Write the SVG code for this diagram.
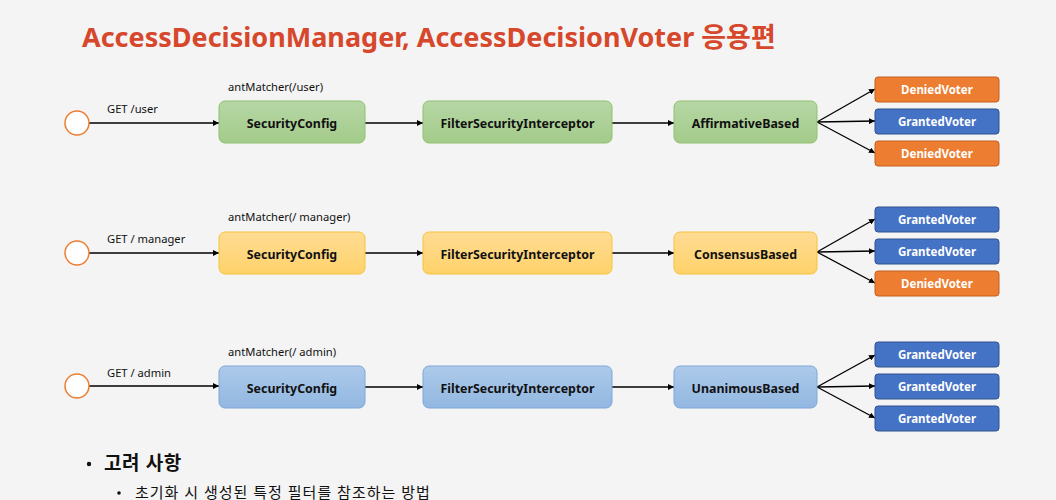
<svg xmlns="http://www.w3.org/2000/svg" width="1056" height="500" viewBox="0 0 1056 500">
<defs>
<linearGradient id="gGreen" x1="0" y1="0" x2="0" y2="1"><stop offset="0" stop-color="#b6d7a5"/><stop offset="1" stop-color="#a3cb8a"/></linearGradient>
<linearGradient id="gYellow" x1="0" y1="0" x2="0" y2="1"><stop offset="0" stop-color="#ffdc94"/><stop offset="1" stop-color="#ffd26a"/></linearGradient>
<linearGradient id="gBlue" x1="0" y1="0" x2="0" y2="1"><stop offset="0" stop-color="#adcaea"/><stop offset="1" stop-color="#92b7e1"/></linearGradient>
<marker id="arr" viewBox="0 0 10 10" refX="10" refY="5" markerWidth="6" markerHeight="6" markerUnits="userSpaceOnUse" orient="auto"><path d="M0,0 L10,5 L0,10 z" fill="#000"/></marker>
</defs>
<style>
text{font-family:"Segoe UI","Noto Sans","Noto Sans CJK KR",sans-serif;}
.title{font-size:27px;font-weight:bold;fill:#d6472b;}
.lbl{font-size:11.2px;fill:#111;}
.node{font-size:12.4px;font-weight:bold;fill:#111;text-anchor:middle;}
.vt{font-size:11.5px;font-weight:bold;fill:#fff;text-anchor:middle;}
.green{fill:url(#gGreen);stroke:#8fc16f;stroke-width:1;}
.yellow{fill:url(#gYellow);stroke:#f5c33b;stroke-width:1;}
.blue{fill:url(#gBlue);stroke:#7ea8d8;stroke-width:1;}
.denied{fill:#ed7d31;stroke:#c4601f;stroke-width:1;}
.granted{fill:#4472c4;stroke:#2f528f;stroke-width:1;}
.start{fill:#fff;stroke:#ed7d31;stroke-width:1.5;}
.conn line{stroke:#000;stroke-width:1.3;marker-end:url(#arr);}
.b1{font-size:19px;font-weight:bold;fill:#111;letter-spacing:0.6px;}
.b2{font-size:15px;fill:#111;letter-spacing:1px;}
</style>
<rect width="1056" height="500" fill="#f4f4f4"/>
<text class="title" x="82" y="47">AccessDecisionManager, AccessDecisionVoter 응용편</text>

<g id="labels">
<text class="lbl" x="228" y="91">antMatcher(/user)</text>
<text class="lbl" x="107" y="113">GET /user</text>
<text class="lbl" x="228" y="221">antMatcher(/ manager)</text>
<text class="lbl" x="107" y="243">GET / manager</text>
<text class="lbl" x="228" y="356">antMatcher(/ admin)</text>
<text class="lbl" x="107" y="377">GET / admin</text>
</g>

<g class="conn" id="connectors">
<line x1="89" y1="123" x2="219" y2="123"/>
<line x1="365" y1="123" x2="423" y2="123"/>
<line x1="612" y1="123" x2="674" y2="123"/>
<line x1="817" y1="122" x2="875" y2="89"/>
<line x1="817" y1="122" x2="875" y2="121"/>
<line x1="817" y1="122" x2="875" y2="153"/>

<line x1="89" y1="253" x2="219" y2="253"/>
<line x1="365" y1="253" x2="423" y2="253"/>
<line x1="612" y1="253" x2="674" y2="253"/>
<line x1="817" y1="252" x2="875" y2="219"/>
<line x1="817" y1="252" x2="875" y2="251"/>
<line x1="817" y1="252" x2="875" y2="283"/>

<line x1="89" y1="386" x2="219" y2="386"/>
<line x1="365" y1="387" x2="423" y2="387"/>
<line x1="612" y1="387" x2="674" y2="387"/>
<line x1="817" y1="387" x2="875" y2="355"/>
<line x1="817" y1="387" x2="875" y2="386"/>
<line x1="817" y1="387" x2="875" y2="418"/>
</g>

<g id="start1"><circle class="start" cx="77" cy="123" r="12"/></g>
<g id="start2"><circle class="start" cx="77" cy="253" r="12"/></g>
<g id="start3"><circle class="start" cx="77" cy="386" r="12"/></g>

<g id="sc1"><rect class="green" x="219" y="101" width="146" height="42" rx="6"/><text class="node" x="292" y="127.5">SecurityConfig</text></g>
<g id="fsi1"><rect class="green" x="423" y="101" width="189" height="42" rx="6"/><text class="node" x="517.5" y="127.5">FilterSecurityInterceptor</text></g>
<g id="ab"><rect class="green" x="674" y="101" width="143" height="42" rx="6"/><text class="node" x="745.5" y="127.5">AffirmativeBased</text></g>
<g id="v11"><rect class="denied" x="875" y="77" width="124" height="25" rx="3"/><text class="vt" x="937" y="93.5">DeniedVoter</text></g>
<g id="v12"><rect class="granted" x="875" y="109" width="124" height="25" rx="3"/><text class="vt" x="937" y="125.5">GrantedVoter</text></g>
<g id="v13"><rect class="denied" x="875" y="141" width="124" height="25" rx="3"/><text class="vt" x="937" y="157.5">DeniedVoter</text></g>

<g id="sc2"><rect class="yellow" x="219" y="232" width="146" height="42" rx="6"/><text class="node" x="292" y="258.5">SecurityConfig</text></g>
<g id="fsi2"><rect class="yellow" x="423" y="232" width="189" height="42" rx="6"/><text class="node" x="517.5" y="258.5">FilterSecurityInterceptor</text></g>
<g id="cb"><rect class="yellow" x="674" y="232" width="143" height="42" rx="6"/><text class="node" x="745.5" y="258.5">ConsensusBased</text></g>
<g id="v21"><rect class="granted" x="875" y="207" width="124" height="25" rx="3"/><text class="vt" x="937" y="223.5">GrantedVoter</text></g>
<g id="v22"><rect class="granted" x="875" y="239" width="124" height="25" rx="3"/><text class="vt" x="937" y="255.5">GrantedVoter</text></g>
<g id="v23"><rect class="denied" x="875" y="271" width="124" height="25" rx="3"/><text class="vt" x="937" y="287.5">DeniedVoter</text></g>

<g id="sc3"><rect class="blue" x="219" y="366" width="146" height="42" rx="6"/><text class="node" x="292" y="392.5">SecurityConfig</text></g>
<g id="fsi3"><rect class="blue" x="423" y="366" width="189" height="42" rx="6"/><text class="node" x="517.5" y="392.5">FilterSecurityInterceptor</text></g>
<g id="ub"><rect class="blue" x="674" y="366" width="143" height="42" rx="6"/><text class="node" x="745.5" y="392.5">UnanimousBased</text></g>
<g id="v31"><rect class="granted" x="875" y="342" width="124" height="25" rx="3"/><text class="vt" x="937" y="358.5">GrantedVoter</text></g>
<g id="v32"><rect class="granted" x="875" y="374" width="124" height="25" rx="3"/><text class="vt" x="937" y="390.5">GrantedVoter</text></g>
<g id="v33"><rect class="granted" x="875" y="406" width="124" height="25" rx="3"/><text class="vt" x="937" y="422.5">GrantedVoter</text></g>

<g id="notes">
<circle cx="89" cy="464" r="2.2" fill="#111"/>
<text class="b1" x="104" y="470">고려 사항</text>
<circle cx="119" cy="493" r="1.8" fill="#111"/>
<text class="b2" x="135" y="498">초기화 시 생성된 특정 필터를 참조하는 방법</text>
</g>
</svg>
